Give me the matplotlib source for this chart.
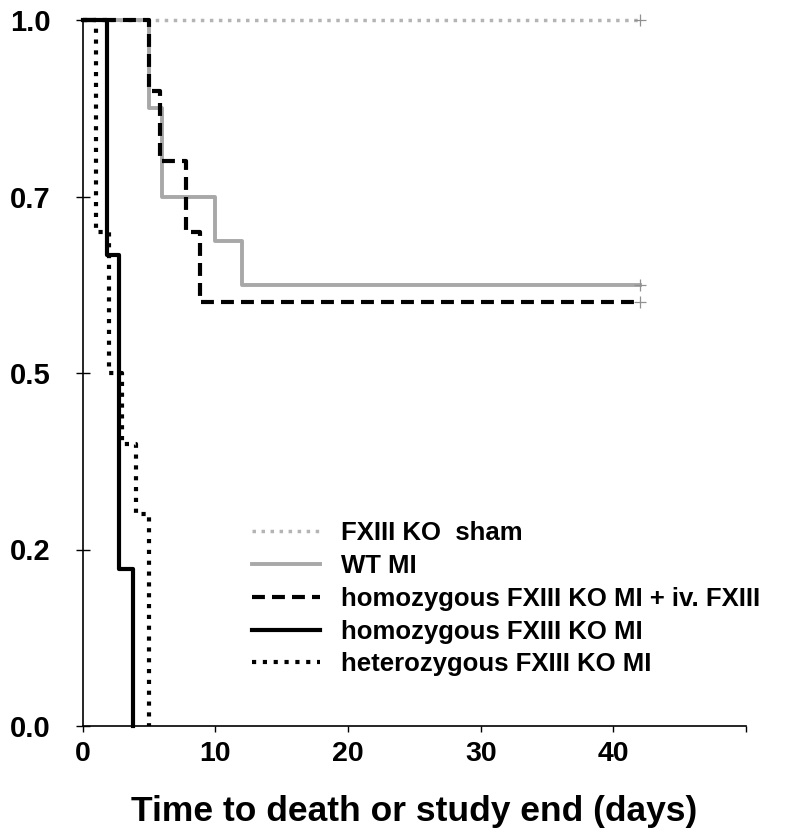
import matplotlib
matplotlib.use("Agg")
import matplotlib.pyplot as plt

# ---- data ----
days_sham = [0, 42]
surv_sham = [1.0, 1.0]
days_wt = [0, 5, 6, 10, 12, 42]
surv_wt = [1.0, 0.875, 0.75, 0.6875, 0.625, 0.625]
days_iv = [0, 5, 5.8, 7.75, 8.85, 42]
surv_iv = [1.0, 0.9, 0.8, 0.7, 0.6, 0.6]
days_homo = [0, 1.8, 2.75, 3.8]
surv_homo = [1.0, 0.667, 0.222, 0.0]
days_het = [0, 1, 2, 3, 4, 5]
surv_het = [1.0, 0.7, 0.5, 0.4, 0.3, 0.0]

labels = ["FXIII KO  sham", "WT MI", "homozygous FXIII KO MI + iv. FXIII",
          "homozygous FXIII KO MI", "heterozygous FXIII KO MI"]
yticks = [0.0, 0.25, 0.5, 0.75, 1.0]
ytick_labels = ["0.0", "0.2", "0.5", "0.7", "1.0"]
xticks = [0, 10, 20, 30, 40, 50]
xtick_labels = ["0", "10", "20", "30", "40", ""]
xlabel = "Time to death or study end (days)"

plt.rcParams['font.family'] = ["Liberation Sans", "DejaVu Sans"]

fig = plt.figure(figsize=(8.0, 8.34), dpi=100)
W, H = 800, 834
ax = fig.add_axes([82.7 / W, 1 - 726 / H, (746 - 82.7) / W, (726 - 20) / H])

gray = "#a8a8a8"
l_sham, = ax.step(days_sham, surv_sham, where="post", color="#b4b4b4", lw=2.5,
                  linestyle=(0, (1, 1.6)), dash_capstyle="butt", clip_on=False, label=labels[0])
l_wt, = ax.step(days_wt, surv_wt, where="post", color=gray, lw=2.8,
                clip_on=False, label=labels[1])
l_iv, = ax.step(days_iv, surv_iv, where="post", color="black", lw=3.0,
                linestyle=(0, (3.1, 1.7)), dash_capstyle="butt", clip_on=False, label=labels[2])
l_homo, = ax.step(days_homo, surv_homo, where="post", color="black", lw=3.0,
                  clip_on=False, label=labels[3])
l_het, = ax.step(days_het, surv_het, where="post", color="black", lw=3.0,
                 linestyle=(0, (1, 1.6)), dash_capstyle="butt", clip_on=False, label=labels[4])

# censor marks at study end
for d, s in [(days_sham, surv_sham), (days_wt, surv_wt), (days_iv, surv_iv)]:
    ax.plot([d[-1]], [s[-1]], marker="+", ms=9, mew=0.9, color="#909090",
            linestyle="none", clip_on=False)

ax.set_xlim(0, 50)
ax.set_ylim(0, 1.0)
ax.set_yticks(yticks)
ax.set_yticklabels(ytick_labels, fontsize=21, fontweight="bold")
ax.set_xticks(xticks)
ax.set_xticklabels(xtick_labels, fontsize=20.5, fontweight="bold")
ax.tick_params(axis="y", direction="inout", length=10, width=1, pad=18)
ax.tick_params(axis="x", direction="out", length=4, width=1, pad=7)
ax.set_xlabel(xlabel, fontsize=25.5, fontweight="bold", labelpad=20)

for sp in ["top", "right"]:
    ax.spines[sp].set_visible(False)
for sp in ["left", "bottom"]:
    ax.spines[sp].set_linewidth(1.2)

leg = ax.legend(handles=[l_sham, l_wt, l_iv, l_homo, l_het], labels=labels,
                loc="upper left", bbox_to_anchor=(252 / W, 1 - 521 / H),
                bbox_transform=fig.transFigure, frameon=False, fontsize=18.5,
                handlelength=2.65, handletextpad=0.82, labelspacing=0.345,
                borderpad=0, borderaxespad=0)
for t in leg.get_texts():
    t.set_fontweight("bold")

fig.savefig("out.png", dpi=100)
